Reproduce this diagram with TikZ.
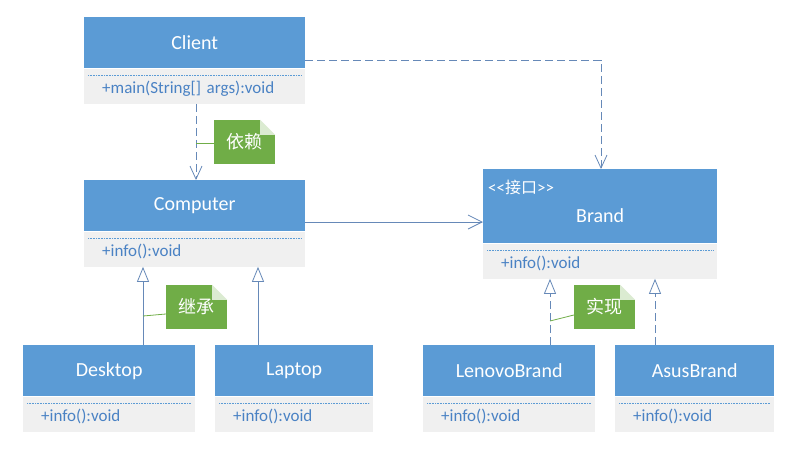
\documentclass[tikz,border=0pt]{standalone}
\usepackage{fontspec}
\setmainfont{Carlito}
\newfontfamily\cjk{Noto Sans CJK SC}
\usetikzlibrary{arrows.meta}
\definecolor{headblue}{HTML}{5B9BD5}
\definecolor{bodygray}{HTML}{F0F0F0}
\definecolor{membertext}{HTML}{4A82C4}
\definecolor{linkblue}{HTML}{6689B8}
\definecolor{notegreen}{HTML}{70AD47}
\begin{document}
\begin{tikzpicture}[x=1pt,y=-1pt,
    head/.style={rectangle,fill=headblue,text=white,anchor=north west,
      minimum height=51,inner sep=0pt,font=\fontsize{20}{22}\selectfont},
    body/.style={rectangle,fill=bodygray,text=membertext,anchor=north west,
      minimum height=35,inner ysep=0pt,inner xsep=18,align=left,
      text height=16,text depth=2,font=\fontsize{17}{19}\selectfont},
    sepline/.style={headblue,line width=0.5pt,dash pattern=on 1pt off 0.6pt},
    dep/.style={linkblue,line width=0.8pt,dash pattern=on 8pt off 4pt,
      -{Straight Barb[length=13pt,width=12pt,line width=0.8pt]}},
    assoc/.style={linkblue,line width=0.8pt,
      -{Straight Barb[length=14pt,width=14pt,line width=0.8pt]}},
    inherit/.style={linkblue,line width=0.8pt,
      -{Triangle[open,fill=white,length=15pt,width=12pt,line width=0.8pt]}},
    realize/.style={inherit,dash pattern=on 8pt off 4pt},
    note/.style={rectangle,fill=notegreen,text=white,minimum width=61,
      minimum height=44,inner sep=0pt,font=\cjk\fontsize{18}{20}\selectfont},
    notelink/.style={notegreen,line width=0.8pt}]
  \useasboundingbox (0,0) rectangle (797,451);

  % Client
  \node[head,minimum width=221] (client) at (84,17) {Client};
  \node[body,text width=185] (clientb) at (client.south west) {+main(String[] args):void};
  \draw[sepline] ([shift={(4,7)}]clientb.north west) -- ([shift={(-4,7)}]clientb.north east);

  % Computer
  \node[head,minimum width=221] (computer) at (84,180) {Computer};
  \node[body,text width=185] (computerb) at (computer.south west) {+info():void};
  \draw[sepline] ([shift={(4,7)}]computerb.north west) -- ([shift={(-4,7)}]computerb.north east);

  % Brand
  \node[head,minimum width=234,minimum height=74] (brand) at (483,169) {};
  \node[text=white,inner sep=0pt,font=\fontsize{20}{22}\selectfont] (brandname)
    at ([shift={(0,47)}]brand.north) {Brand};
  \node[text=white,anchor=west,inner sep=0pt,font=\fontsize{17}{19}\selectfont] (brandtag)
    at ([shift={(5,18)}]brand.north west) {<{}<{\cjk\fontsize{16}{18}\selectfont 接口}>{}>};
  \node[body,text width=198] (brandb) at (brand.south west) {+info():void};
  \draw[sepline] ([shift={(4,7)}]brandb.north west) -- ([shift={(-4,7)}]brandb.north east);

  % Desktop y Laptop
  \node[head,minimum width=172] (desktop) at (23,345) {Desktop};
  \node[body,text width=136] (desktopb) at (desktop.south west) {+info():void};
  \draw[sepline] ([shift={(4,7)}]desktopb.north west) -- ([shift={(-4,7)}]desktopb.north east);
  \node[head,minimum width=158] (laptop) at (215,345) {Laptop};
  \node[body,text width=122] (laptopb) at (laptop.south west) {+info():void};
  \draw[sepline] ([shift={(4,7)}]laptopb.north west) -- ([shift={(-4,7)}]laptopb.north east);

  % LenovoBrand y AsusBrand
  \node[head,minimum width=172] (lenovo) at (423,345) {LenovoBrand};
  \node[body,text width=136] (lenovob) at (lenovo.south west) {+info():void};
  \draw[sepline] ([shift={(4,7)}]lenovob.north west) -- ([shift={(-4,7)}]lenovob.north east);
  \node[head,minimum width=159] (asus) at (615,345) {AsusBrand};
  \node[body,text width=123] (asusb) at (asus.south west) {+info():void};
  \draw[sepline] ([shift={(4,7)}]asusb.north west) -- ([shift={(-4,7)}]asusb.north east);

  % Relaciones
  \draw[dep] (clientb.south -| 196,0) -- (computer.north -| 196,0);
  \draw[dep] (client.east |- 0,60) -| (brand.north -| 601,0);
  \draw[assoc] (computer.east |- 0,222) -- (brand.west |- 0,222);
  \draw[inherit] (desktop.north -| 143,0) -- (computerb.south -| 143,0);
  \draw[inherit] (laptop.north -| 258,0) -- (computerb.south -| 258,0);
  \draw[realize] (lenovo.north -| 550,0) -- (brandb.south -| 550,0);
  \draw[realize] (asus.north -| 655,0) -- (brandb.south -| 655,0);

  % Notas
  \node[note] (relynote) at (244.5,142) {依赖};
  \node[note] (inhnote) at (196.5,307) {继承};
  \node[note] (implnote) at (604.5,307) {实现};
  \foreach \n in {relynote,inhnote,implnote}{
    \fill[white] (\n.north east) rectangle ++(-15,15);
    \fill[notegreen!25] ([shift={(-15,0)}]\n.north east) -- ++(15,15) -- ++(-15,0) -- cycle;
  }
  \coordinate (relyend) at (196,143);
  \coordinate (inhend) at (143,316);
  \coordinate (implend) at (550,321);
  \draw[notelink] (relynote.west |- 0,143) -- (relyend);
  \draw[notelink] (inhnote.west |- 0,314) -- (inhend);
  \draw[notelink] (implnote.west |- 0,315) -- (implend);
\end{tikzpicture}
\end{document}
